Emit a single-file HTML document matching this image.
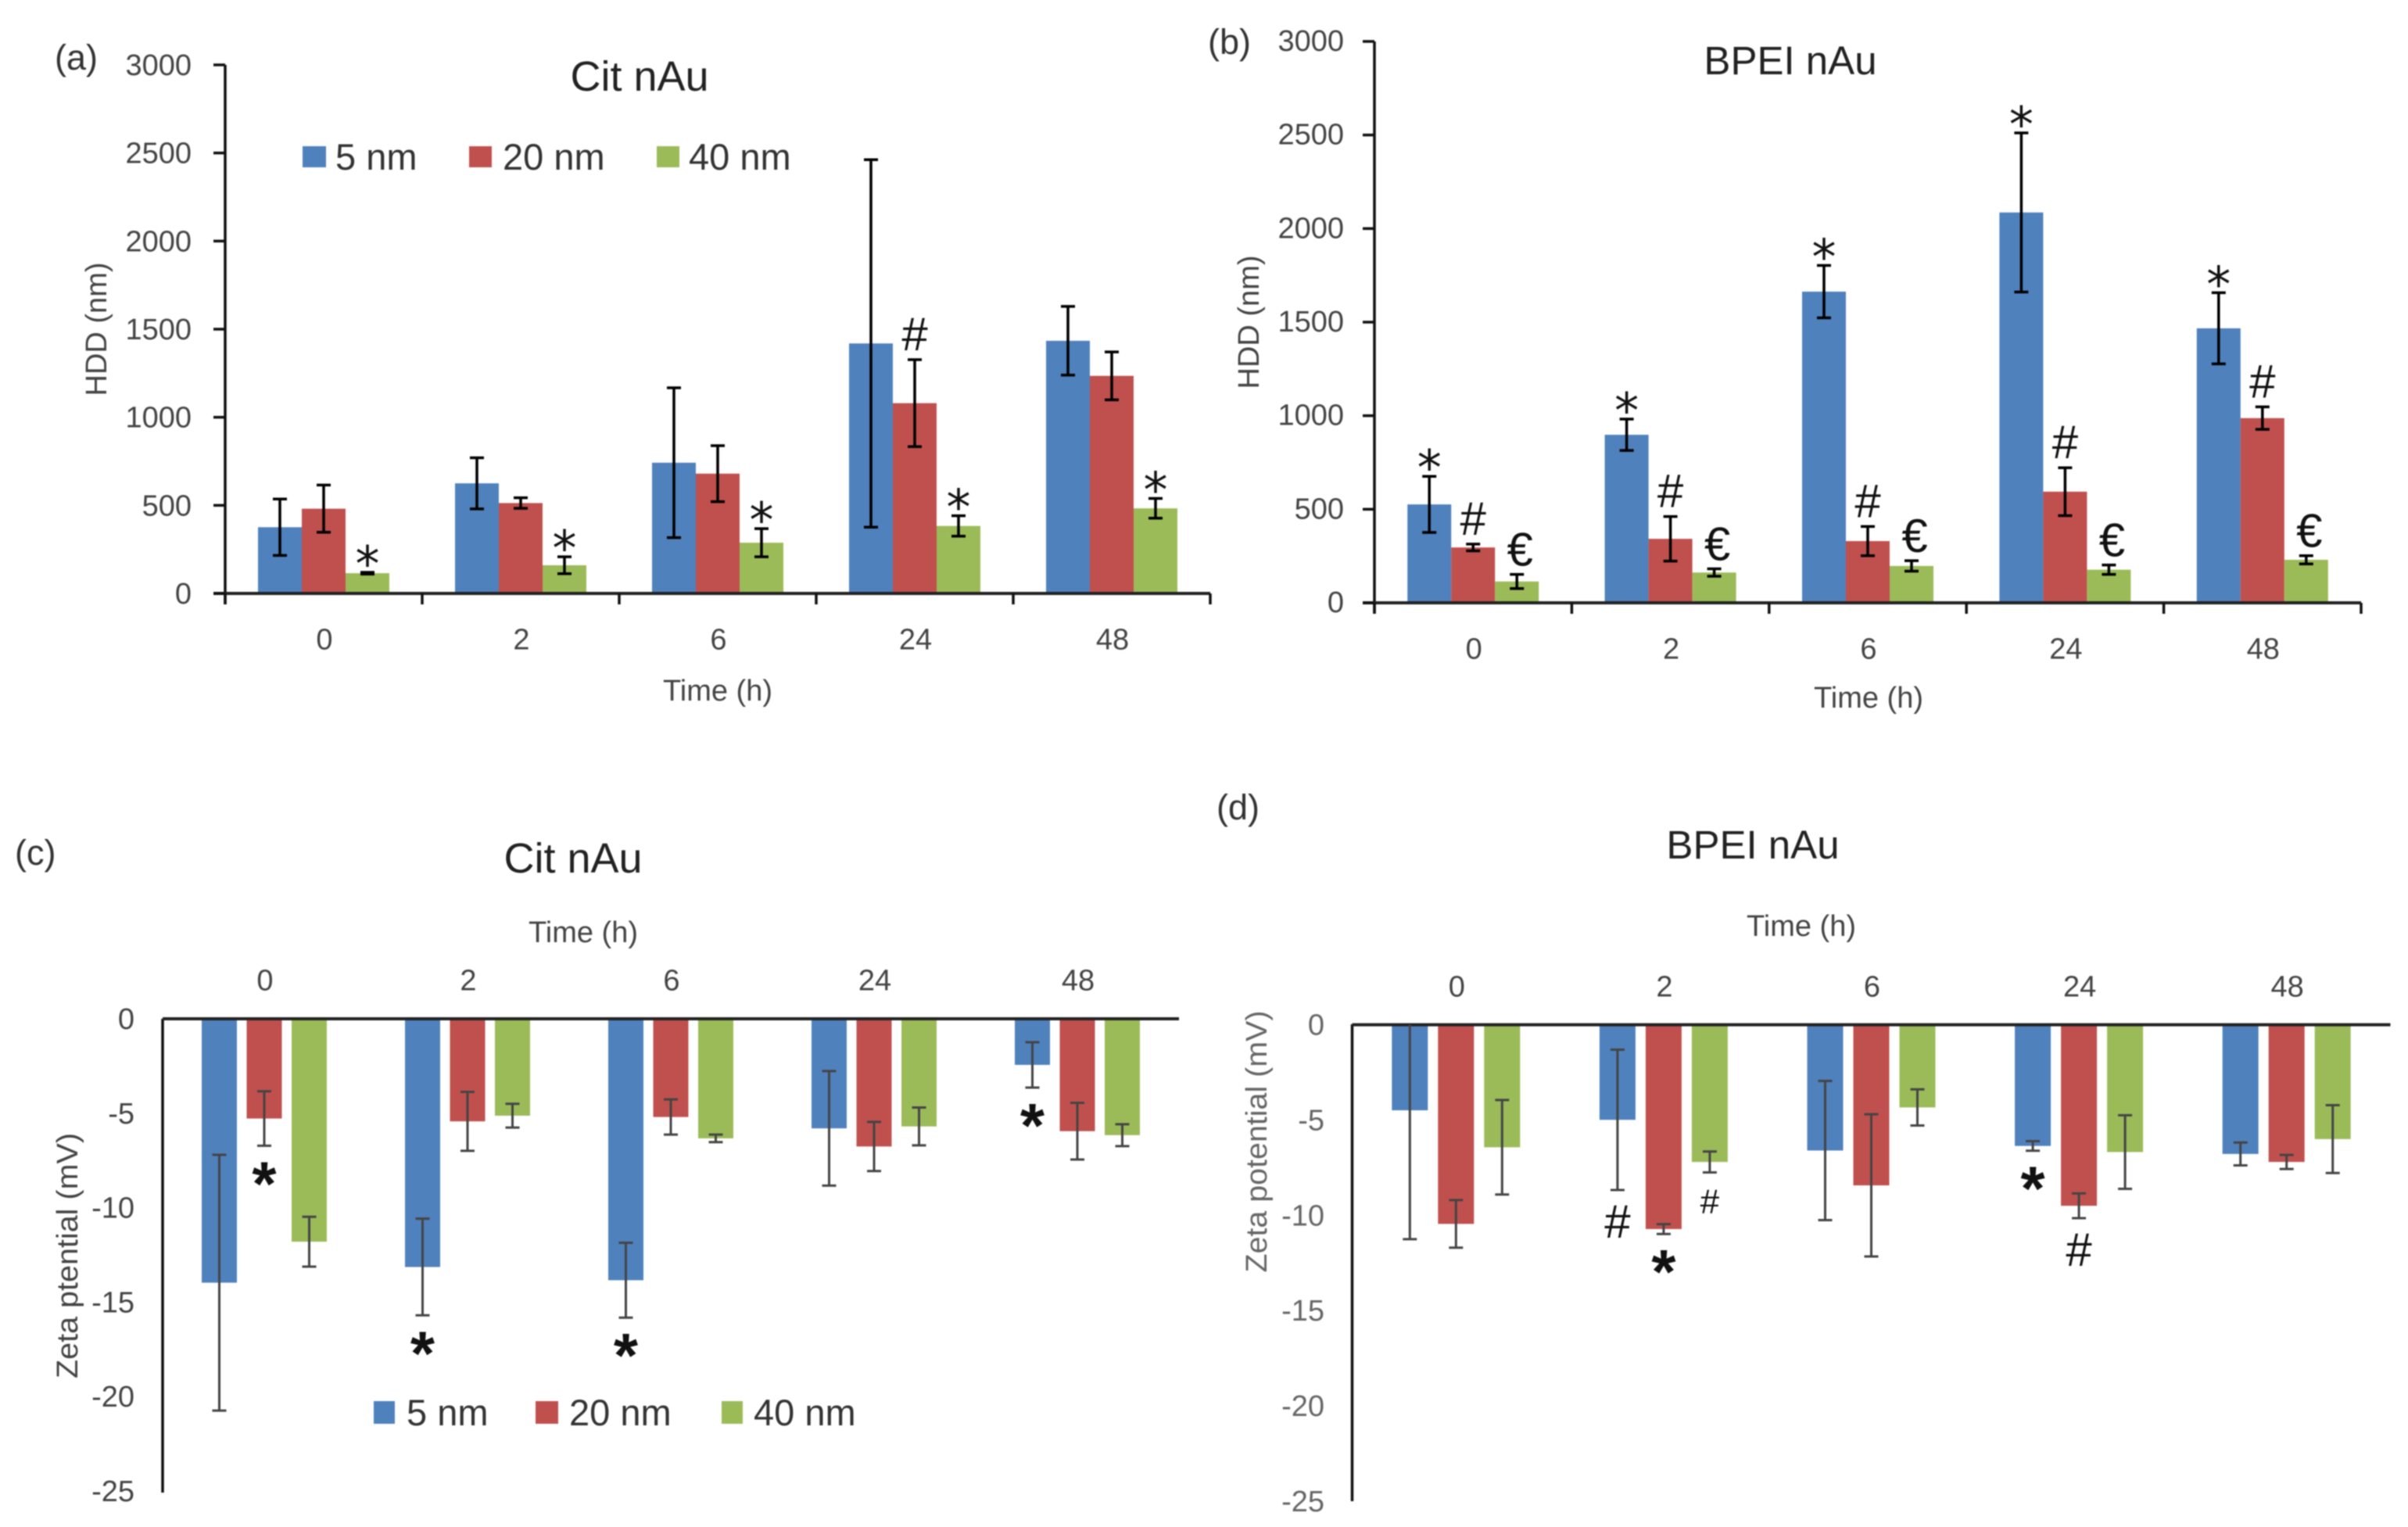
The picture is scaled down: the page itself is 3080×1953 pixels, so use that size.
<!DOCTYPE html>
<html lang="en">
<head>
<meta charset="utf-8">
<title>HDD and zeta potential of Cit and BPEI nAu over time</title>
<style>
  html, body { margin: 0; padding: 0; background: #fff; }
  #figure { display: block; width: 3080px; height: 1953px; filter: blur(0.8px); }
  text { font-family: "Liberation Sans", sans-serif; }
  .panel-label { font-size: 45px; fill: #333; }
  .title { font-size: 51px; fill: #222; text-anchor: middle; }
  .title-cit { font-size: 54px; }
  .tick { font-size: 38px; fill: #444; text-anchor: end; }
  .cat { font-size: 38px; fill: #444; text-anchor: middle; }
  .axis-title { font-size: 38px; fill: #444; text-anchor: middle; }
  .legend { font-size: 47px; fill: #333; }
  .light .tick, .light .y-title { fill: #666; }
  .sym { fill: #111; text-anchor: middle; }
  .sym-star { font-family: "DejaVu Sans", sans-serif; }
</style>
</head>
<body>
<svg id="figure" xmlns="http://www.w3.org/2000/svg" width="3080" height="1953" viewBox="0 0 3080 1953">
  <rect x="0" y="0" width="3080" height="1953" fill="#fff"/>

  <g id="panel-a">
    <text class="panel-label" x="70" y="89">(a)</text>
    <text class="title title-cit" x="818" y="116">Cit nAu</text>
    <text class="axis-title" transform="translate(136,421) rotate(-90)">HDD (nm)</text>
    <text class="axis-title" x="918" y="896">Time (h)</text>
    <g>
      <rect x="387" y="187" width="30" height="27" fill="#4F81BD"/>
      <text class="legend" x="429" y="217">5 nm</text>
      <rect x="600" y="187" width="29" height="27" fill="#C0504D"/>
      <text class="legend" x="643" y="217">20 nm</text>
      <rect x="840" y="187" width="29" height="27" fill="#9BBB59"/>
      <text class="legend" x="881" y="217">40 nm</text>
    </g>
  </g>

  <g id="panel-b">
    <text class="panel-label" x="1545" y="69">(b)</text>
    <text class="title" x="2290" y="95">BPEI nAu</text>
    <text class="axis-title" transform="translate(1610,412) rotate(-90)">HDD (nm)</text>
    <text class="axis-title" x="2390" y="905">Time (h)</text>
  </g>

  <g id="panel-c">
    <text class="panel-label" x="19" y="1106">(c)</text>
    <text class="title title-cit" x="733" y="1116">Cit nAu</text>
    <text class="axis-title" x="746" y="1205">Time (h)</text>
    <text class="axis-title" transform="translate(99,1606) rotate(-90)" textLength="314" lengthAdjust="spacingAndGlyphs">Zeta ptential (mV)</text>
    <g>
      <rect x="478" y="1792" width="27" height="29" fill="#4F81BD"/>
      <text class="legend" x="520" y="1823">5 nm</text>
      <rect x="685" y="1792" width="29" height="29" fill="#C0504D"/>
      <text class="legend" x="728" y="1823">20 nm</text>
      <rect x="923" y="1792" width="27" height="29" fill="#9BBB59"/>
      <text class="legend" x="964" y="1823">40 nm</text>
    </g>
  </g>

  <g id="panel-d" class="light">
    <text class="panel-label" x="1556" y="1048">(d)</text>
    <text class="title" x="2242" y="1098">BPEI nAu</text>
    <text class="axis-title" x="2304" y="1197">Time (h)</text>
    <text class="axis-title y-title" transform="translate(1620,1460) rotate(-90)" textLength="335" lengthAdjust="spacingAndGlyphs">Zeta potential (mV)</text>
  </g>
</svg>

<script>
// Shared categories and series
const categories = ['0', '2', '6', '24', '48'];
const seriesNames = ['5 nm', '20 nm', '40 nm'];
const seriesColors = ['#4F81BD', '#C0504D', '#9BBB59'];

// Panel (a) Cit nAu, HDD
const hddTicks = ['0', '500', '1000', '1500', '2000', '2500', '3000'];
const citHdd5 = [376, 625, 742, 1419, 1434];
const citHdd20 = [481, 513, 680, 1080, 1235];
const citHdd40 = [115, 160, 288, 383, 483];
const citHddErr5 = [160, 145, 425, 1043, 195];
const citHddErr20 = [134, 30, 159, 247, 136];
const citHddErr40 = [5, 48, 80, 58, 56];
const citHddMarks = [[0, 2, '*'], [1, 2, '*'], [2, 2, '*'], [3, 1, '#'], [3, 2, '*'], [4, 2, '*']];

// Panel (b) BPEI nAu, HDD
const bpeiHdd5 = [526, 898, 1663, 2086, 1467];
const bpeiHdd20 = [296, 342, 330, 594, 987];
const bpeiHdd40 = [114, 162, 197, 177, 230];
const bpeiHddErr5 = [150, 84, 140, 425, 190];
const bpeiHddErr20 = [18, 119, 78, 128, 60];
const bpeiHddErr40 = [38, 20, 28, 25, 22];
const bpeiHddMarks = [
  [0, 0, '*'], [0, 1, '#'], [0, 2, '€'],
  [1, 0, '*'], [1, 1, '#'], [1, 2, '€'],
  [2, 0, '*'], [2, 1, '#'], [2, 2, '€'],
  [3, 0, '*'], [3, 1, '#'], [3, 2, '€'],
  [4, 0, '*'], [4, 1, '#'], [4, 2, '€']
];

// Panel (c) Cit nAu, zeta potential
const zetaTicks = ['0', '-5', '-10', '-15', '-20', '-25'];
const citZeta5 = [-13.97, -13.14, -13.84, -5.8, -2.44];
const citZeta20 = [-5.28, -5.43, -5.2, -6.76, -5.95];
const citZeta40 = [-11.8, -5.13, -6.33, -5.7, -6.16];
const citZetaErr5 = [6.77, 2.56, 1.98, 3.03, 1.2];
const citZetaErr20 = [1.44, 1.56, 0.93, 1.3, 1.5];
const citZetaErr40 = [1.32, 0.63, 0.2, 1.0, 0.58];
const citZetaMarks = [[0, 1, '*'], [1, 0, '*'], [2, 0, '*'], [4, 0, '*']];

// Panel (d) BPEI nAu, zeta potential
const bpeiZeta5 = [-4.49, -4.99, -6.6, -6.36, -6.78];
const bpeiZeta20 = [-10.45, -10.72, -8.43, -9.5, -7.2];
const bpeiZeta40 = [-6.43, -7.2, -4.34, -6.68, -6.0];
const bpeiZetaErr5 = [6.76, 3.68, 3.65, 0.25, 0.6];
const bpeiZetaErr20 = [1.25, 0.26, 3.73, 0.65, 0.37];
const bpeiZetaErr40 = [2.48, 0.55, 0.95, 1.93, 1.78];
const bpeiZetaMarks = [[1, 0, '#'], [1, 1, '*'], [1, 2, '#s'], [3, 0, '*'], [3, 1, '#']];

const SVG_NS = 'http://www.w3.org/2000/svg';

function line(parent, x1, y1, x2, y2, color, width, name) {
  const el = document.createElementNS(SVG_NS, 'line');
  el.setAttribute('x1', x1);
  el.setAttribute('y1', y1);
  el.setAttribute('x2', x2);
  el.setAttribute('y2', y2);
  el.setAttribute('stroke', color);
  el.setAttribute('stroke-width', width);
  
  
  parent.appendChild(el);
  return el;
}

function label(parent, str, x, y, cls, name) {
  const el = document.createElementNS(SVG_NS, 'text');
  el.setAttribute('x', x);
  el.setAttribute('y', y);
  el.setAttribute('class', cls);
  el.textContent = str;
  
  
  parent.appendChild(el);
  return el;
}

function drawPanel(id, cfg) {
  const g = document.getElementById(id);
  const yScale = v => cfg.yFrom + (v - cfg.domainFrom) * (cfg.yTo - cfg.yFrom) / (cfg.domainTo - cfg.domainFrom);
  const catCenter = i => cfg.x0 + cfg.catWidth * (i + 0.5);
  const barCenter = (i, s) => catCenter(i) + (s - 1) * cfg.barPitch;
  const y0 = yScale(0);
  const positive = cfg.domainTo > 0;

  cfg.values.forEach((vals, s) => {
    vals.forEach((v, i) => {
      const bar = document.createElementNS(SVG_NS, 'rect');
      const top = Math.min(yScale(v), y0);
      bar.setAttribute('x', barCenter(i, s) - cfg.barWidth / 2);
      bar.setAttribute('y', top);
      bar.setAttribute('width', cfg.barWidth);
      bar.setAttribute('height', Math.abs(yScale(v) - y0));
      bar.setAttribute('fill', seriesColors[s]);
      
      
      g.appendChild(bar);
    });
  });

  // Axes
  line(g, cfg.x0, cfg.yAxisTop, cfg.x0, cfg.yAxisBottom, '#111', 3.5, 'y-axis');
  line(g, cfg.x0 - (cfg.ticks ? 15 : 0), y0, cfg.x0 + cfg.catWidth * categories.length, y0, '#222', 4, 'x-axis');

  // Error bars
  cfg.errors.forEach((errs, s) => {
    errs.forEach((e, i) => {
      const v = cfg.values[s][i];
      const x = barCenter(i, s);
      const hi = v + e;
      const lo = v - e;
      const yHi = yScale(positive ? hi : Math.min(hi, 0));
      const yLo = yScale(lo);
      const nm = 'error-bar-' + seriesNames[s].replace(' ', '') + '-t' + categories[i];
      line(g, x, yHi, x, yLo, cfg.errColor, cfg.errWidth, nm);
      if (hi < 0 || positive) {
        line(g, x - 9, yHi, x + 9, yHi, cfg.errColor, cfg.errWidth, nm + '-cap-top');
      }
      line(g, x - 9, yLo, x + 9, yLo, cfg.errColor, cfg.errWidth, nm + '-cap-bottom');
    });
  });

  // Value axis ticks
  cfg.tickLabels.forEach(t => {
    const y = yScale(parseFloat(t));
    label(g, t, cfg.tickRight, y + cfg.tickDy, 'tick', 'y-tick-label-' + t);
    if (cfg.ticks) {
      line(g, cfg.x0 - 15, y, cfg.x0, y, '#111', 3.5, 'y-tick-' + t);
    }
  });

  // Category axis ticks and labels
  categories.forEach((c, i) => {
    label(g, c, catCenter(i) + 1, cfg.catLabelY + 13.5, 'cat', 'x-tick-label-' + c);
    if (cfg.ticks) {
      line(g, cfg.x0 + cfg.catWidth * i, y0, cfg.x0 + cfg.catWidth * i, y0 + 14, '#111', 3.5, 'x-tick-' + c);
    }
  });
  if (cfg.ticks) {
    const endX = cfg.x0 + cfg.catWidth * categories.length;
    line(g, endX, y0, endX, y0 + 14, '#111', 3.5, 'x-tick-end');
  }

  // Significance marks, anchored to the end of their error bar
  cfg.marks.forEach(m => {
    const cat = m[0];
    const s = m[1];
    const sym = m[2];
    const small = sym === '#s';
    const ch = small ? '#' : sym;
    const v = cfg.values[s][cat];
    const e = cfg.errors[s][cat];
    const end = yScale(positive ? v + e : v - e);
    const dir = positive ? -1 : 1;
    const gap = positive
      ? (ch === '*' ? 22 : ch === '#' ? 33 : 32)
      : (ch === '*' ? 30 : 40);
    const cy = end + dir * gap;
    let size;
    let base;
    if (ch === '*' && positive) {
      size = 62;
      base = cy + 33;
    } else if (ch === '*') {
      size = 80;
      base = cy + 46;
    } else if (small) {
      size = 44;
      base = cy + 12;
    } else {
      size = 60;
      base = cy + 21;
    }
    const cls = ch === '*' && positive ? 'sym sym-star' : 'sym';
    const el = label(g, ch, barCenter(cat, s) + (ch === '€' ? 4 : 0), base, cls, 'significance-mark');
    el.setAttribute('font-size', size);
    if (!positive && ch === '*') {
      el.setAttribute('font-weight', 'bold');
    }
  });
}

drawPanel('panel-a', {
  values: [citHdd5, citHdd20, citHdd40],
  errors: [citHddErr5, citHddErr20, citHddErr40],
  marks: citHddMarks,
  tickLabels: hddTicks,
  domainFrom: 0, domainTo: 3000, yFrom: 759, yTo: 83,
  yAxisTop: 83, yAxisBottom: 773,
  x0: 288, catWidth: 252, barWidth: 56, barPitch: 56,
  tickRight: 245, tickDy: 13, catLabelY: 817, ticks: true,
  errColor: '#000', errWidth: 3.5
});

drawPanel('panel-b', {
  values: [bpeiHdd5, bpeiHdd20, bpeiHdd40],
  errors: [bpeiHddErr5, bpeiHddErr20, bpeiHddErr40],
  marks: bpeiHddMarks,
  tickLabels: hddTicks,
  domainFrom: 0, domainTo: 3000, yFrom: 771, yTo: 53,
  yAxisTop: 53, yAxisBottom: 785,
  x0: 1758, catWidth: 252.4, barWidth: 56, barPitch: 56,
  tickRight: 1719, tickDy: 12, catLabelY: 829, ticks: true,
  errColor: '#000', errWidth: 3.5
});

drawPanel('panel-c', {
  values: [citZeta5, citZeta20, citZeta40],
  errors: [citZetaErr5, citZetaErr20, citZetaErr40],
  marks: citZetaMarks,
  tickLabels: zetaTicks,
  domainFrom: 0, domainTo: -25, yFrom: 1303, yTo: 1907,
  yAxisTop: 1303, yAxisBottom: 1909,
  x0: 208, catWidth: 260, barWidth: 45, barPitch: 57.5,
  tickRight: 172, tickDy: 13, catLabelY: 1253, ticks: false,
  errColor: '#444', errWidth: 3
});

drawPanel('panel-d', {
  values: [bpeiZeta5, bpeiZeta20, bpeiZeta40],
  errors: [bpeiZetaErr5, bpeiZetaErr20, bpeiZetaErr40],
  marks: bpeiZetaMarks,
  tickLabels: zetaTicks,
  domainFrom: 0, domainTo: -25, yFrom: 1310.6, yTo: 1920,
  yAxisTop: 1310, yAxisBottom: 1920,
  x0: 1729.5, catWidth: 265.6, barWidth: 46, barPitch: 59,
  tickRight: 1694, tickDy: 13, catLabelY: 1261, ticks: false,
  errColor: '#444', errWidth: 3
});
</script>
</body>
</html>
